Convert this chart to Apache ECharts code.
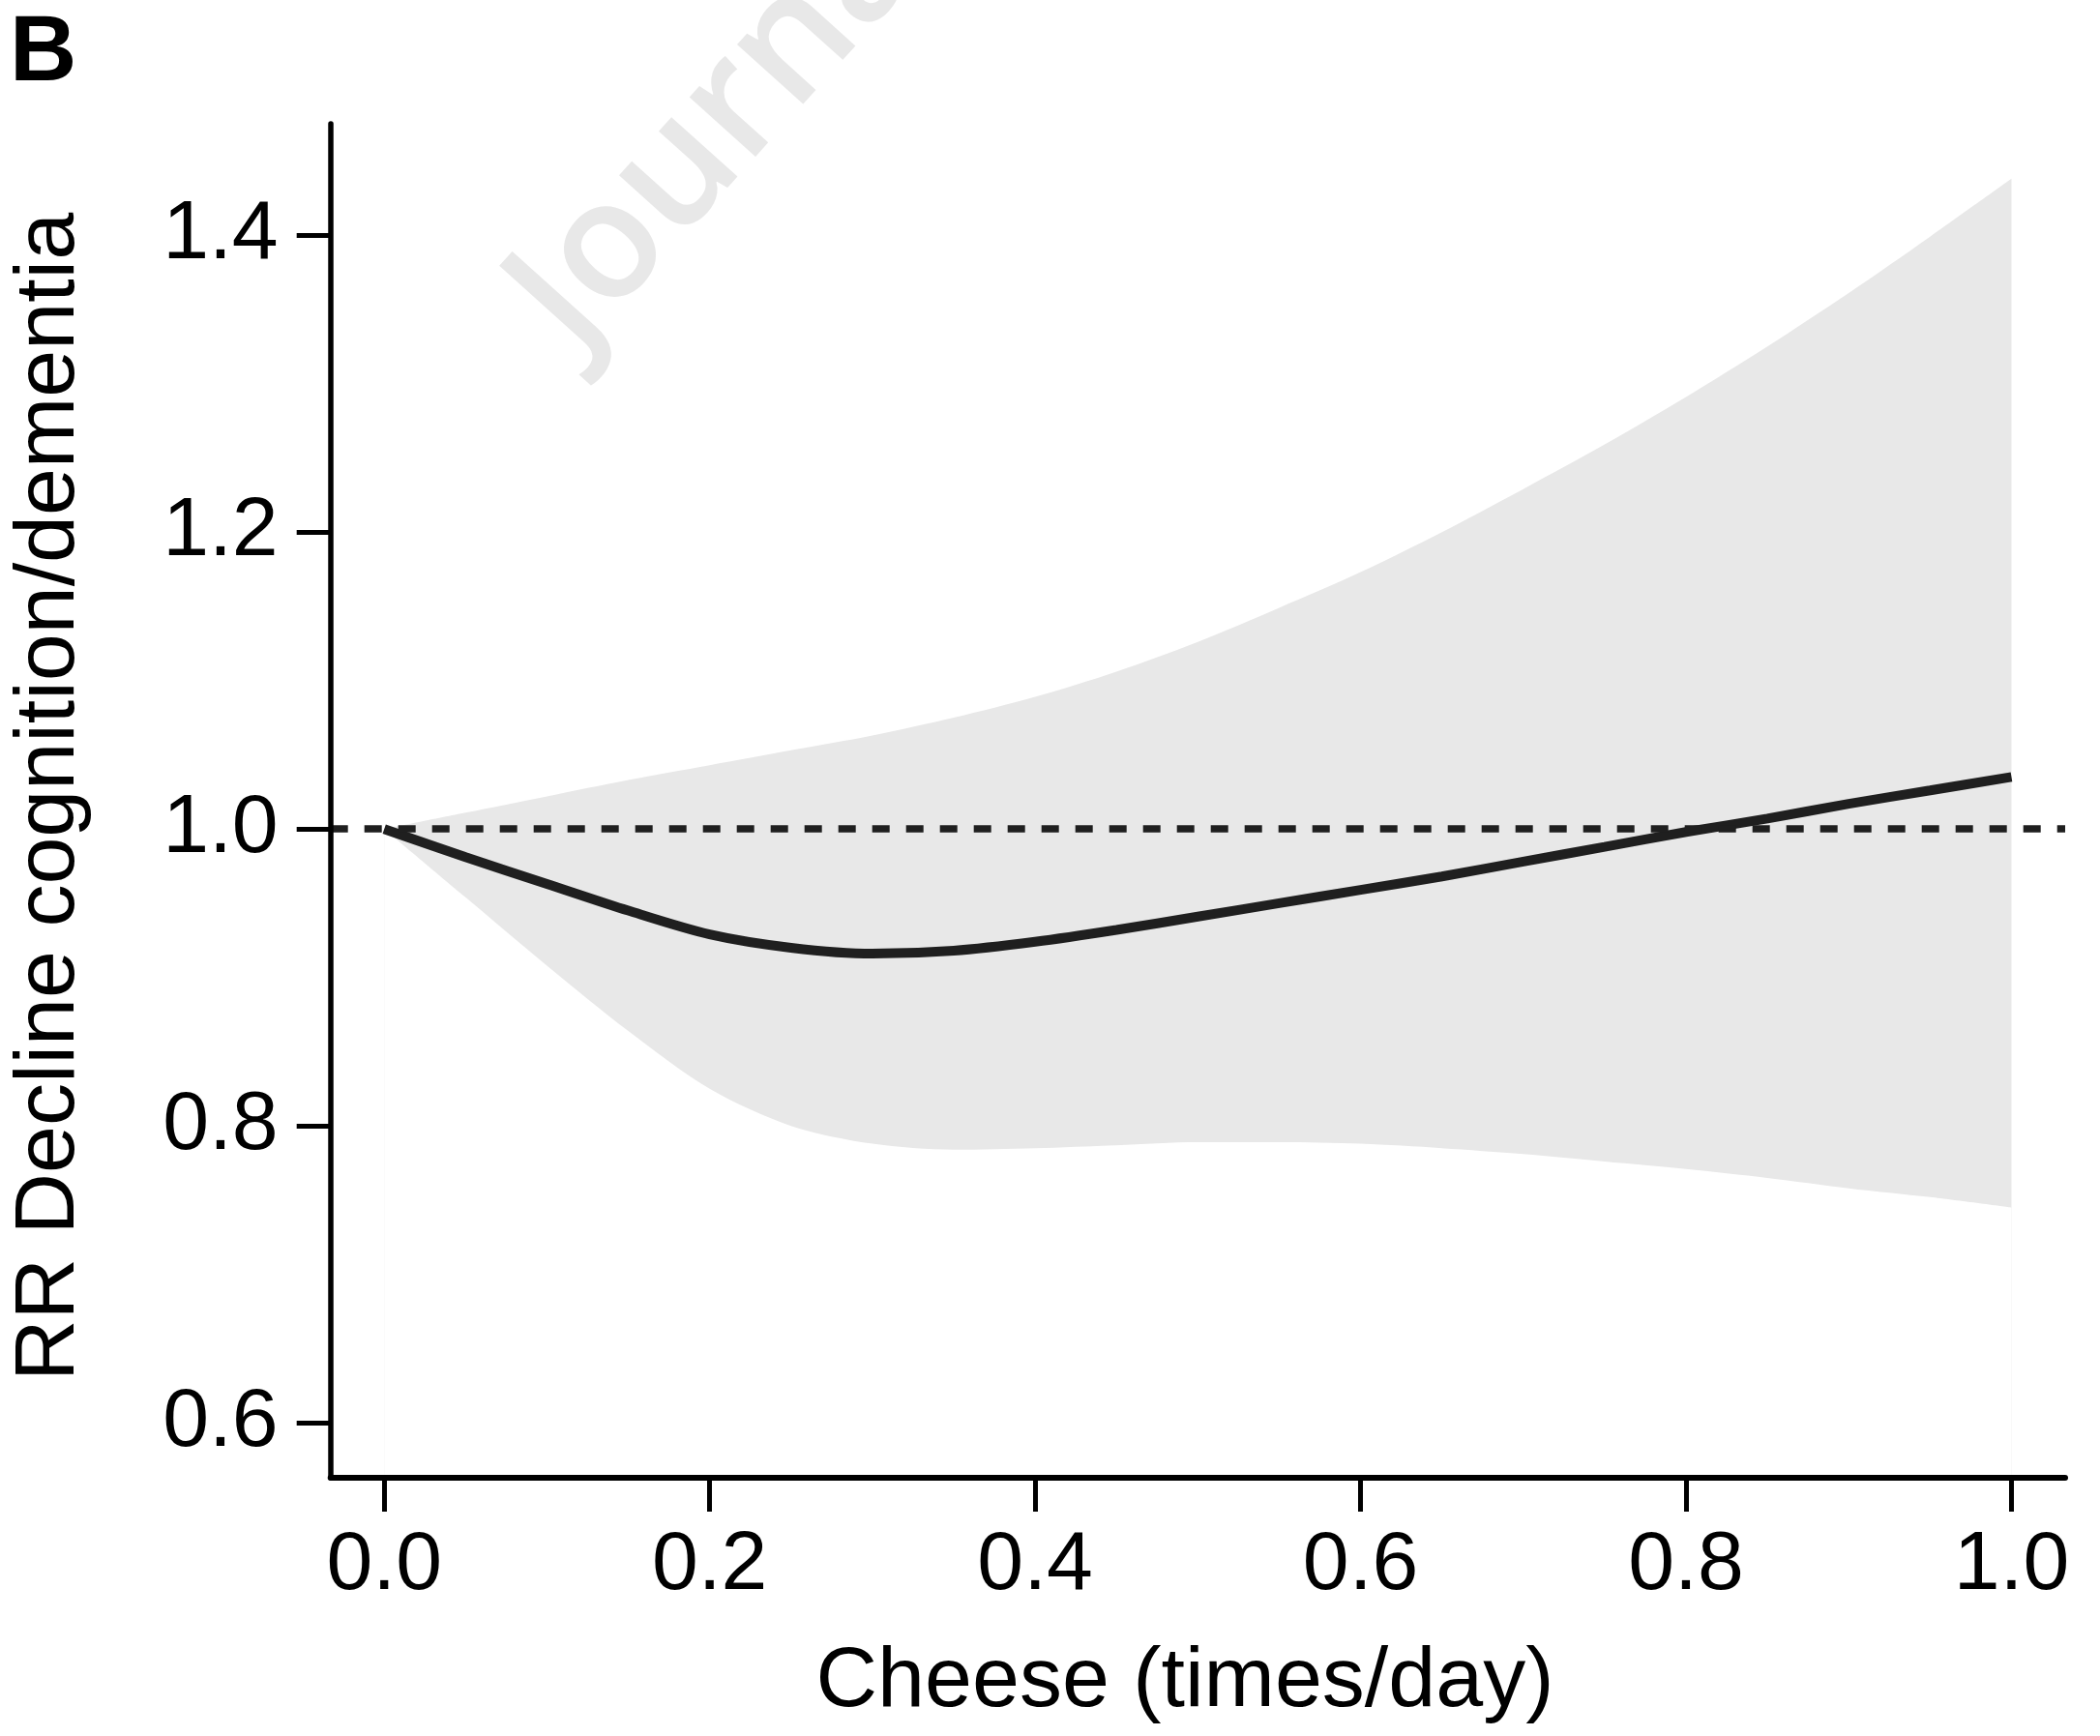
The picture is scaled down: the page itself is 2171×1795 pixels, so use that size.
<!DOCTYPE html>
<html><head><meta charset="utf-8">
<script src="https://cdn.jsdelivr.net/npm/echarts@6/dist/echarts.min.js"></script>
<style>html,body{margin:0;padding:0;background:#fff}#c{width:2171px;height:1795px}</style>
</head><body><div id="c"></div>
<script>
// ---- data ----
const xValues   = [0.00,0.05,0.10,0.15,0.20,0.25,0.30,0.35,0.40,0.45,0.50,0.55,0.60,0.65,0.70,0.75,0.80,0.85,0.90,0.95,1.00];
const rrEstimate= [1.000,0.981,0.963,0.945,0.929,0.920,0.916,0.918,0.924,0.932,0.941,0.950,0.959,0.968,0.978,0.988,0.998,1.007,1.017,1.026,1.035];
const ciUpper   = [1.000,1.011,1.022,1.033,1.043,1.053,1.063,1.075,1.089,1.106,1.126,1.149,1.173,1.200,1.229,1.259,1.291,1.325,1.361,1.399,1.438];
const ciLower   = [1.000,0.954,0.908,0.864,0.825,0.800,0.788,0.784,0.785,0.787,0.789,0.789,0.788,0.785,0.781,0.776,0.771,0.765,0.758,0.752,0.745];
const xTicks = [0.0,0.2,0.4,0.6,0.8,1.0];
const yTicks = [0.6,0.8,1.0,1.2,1.4];
const refLine = 1.0;
const xTitle = 'Cheese (times/day)';
const yTitle = 'RR Decline cognition/dementia';
const panelLabel = 'B';
const watermark = 'Journal Pre-proof';

const FONT = '"Liberation Sans", Arial, Helvetica, sans-serif';
const chart = echarts.init(document.getElementById('c'), null, {renderer:'canvas'});

const upperData = xValues.map((x,i)=>[x, ciUpper[i]]);
const lowerData = xValues.map((x,i)=>[x, ciLower[i]]);
const lineData  = xValues.map((x,i)=>[x, rrEstimate[i]]);

const option = {
  animation:false,
  backgroundColor:'#fff',
  grid:{left:341.7, right:36, top:128, bottom:267, containLabel:false},
  xAxis:{
    type:'value', min:-0.033, max:1.033, z:10,
    axisLine:{show:true, onZero:false, lineStyle:{color:'#000', width:6}},
    axisTick:{show:true, customValues:xTicks, length:35, lineStyle:{color:'#000', width:5}},
    axisLabel:{show:true, customValues:xTicks, formatter:v=>Number(v).toFixed(1), fontSize:86, fontFamily:FONT, color:'#000', margin:48},
    splitLine:{show:false}
  },
  yAxis:{
    type:'value', min:0.563, max:1.475, z:10,
    axisLine:{show:true, onZero:false, lineStyle:{color:'#000', width:5.5}},
    axisTick:{show:true, customValues:yTicks, length:35, lineStyle:{color:'#000', width:5}},
    axisLabel:{show:true, customValues:yTicks, formatter:v=>Number(v).toFixed(1), fontSize:86, fontFamily:FONT, color:'#000', margin:54},
    splitLine:{show:false}
  },
  series:[
    {type:'line', name:'ci-upper', data:upperData, smooth:0.3, symbol:'none',
     lineStyle:{width:0, opacity:0}, areaStyle:{color:'#e8e8e8', opacity:1, origin:'start'}, z:1, silent:true},
    {type:'line', name:'ci-lower', data:lowerData, smooth:0.3, symbol:'none',
     lineStyle:{width:0, opacity:0}, areaStyle:{color:'#ffffff', opacity:1, origin:'start'}, z:2, silent:true},
    {type:'line', name:'RR', data:lineData, smooth:0.3, symbol:'none',
     lineStyle:{color:'#1f1f1f', width:10}, z:4,
     markLine:{silent:true, symbol:'none', label:{show:false},
       lineStyle:{color:'#1f1f1f', width:7.5, type:[18,17]},
       data:[{yAxis:refLine}]}}
  ],
  graphic:[
    {type:'text', x:560, y:335, rotation:48*Math.PI/180, z:0, silent:true,
     style:{text:watermark, fill:'#e8e8e8', font:'600 170px "Open Sans", sans-serif', align:'left', verticalAlign:'middle'}},
    {type:'text', x:10, y:57, z:20,
     style:{text:panelLabel, fill:'#000', font:'bold 96px '+FONT, align:'left', verticalAlign:'middle'}},
    {type:'text', x:1225, y:1740, z:20,
     style:{text:xTitle, fill:'#000', font:'88px '+FONT, align:'center', verticalAlign:'middle'}},
    {type:'text', x:52, y:824, rotation:Math.PI/2, z:20,
     style:{text:yTitle, fill:'#000', font:'88px '+FONT, align:'center', verticalAlign:'middle'}}
  ]
};
chart.setOption(option);
</script>
</body></html>
